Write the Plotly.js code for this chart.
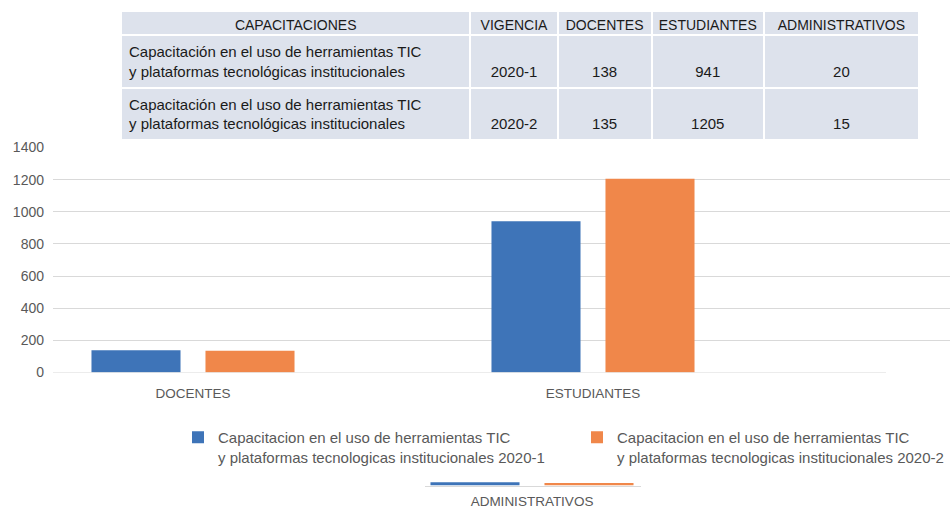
<!DOCTYPE html>
<html>
<head>
<meta charset="utf-8">
<script src="https://cdn.plot.ly/plotly-3.0.1.min.js"></script>
<style>html,body{margin:0;padding:0;background:#fff;}#chart{width:950px;height:510px;}</style>
</head>
<body>
<div id="chart"></div>
<script>
// ---- data ----
var categories = ['DOCENTES', 'ESTUDIANTES'];
var categoriesAdmin = ['ADMINISTRATIVOS'];
var seriesNames = [
  'Capacitacion en el uso de herramientas TIC<br>y plataformas tecnologicas institucionales 2020-1',
  'Capacitacion en el uso de herramientas TIC<br>y plataformas tecnologicas institucionales 2020-2'
];
var values2020_1 = [138, 941];
var values2020_2 = [135, 1205];
var admin2020_1 = [20];
var admin2020_2 = [15];

var tableHeader = ['CAPACITACIONES', 'VIGENCIA', 'DOCENTES', 'ESTUDIANTES', 'ADMINISTRATIVOS'];
var tableCapacitaciones = [
  'Capacitación en el uso de herramientas TIC<br>y plataformas tecnológicas institucionales',
  'Capacitación en el uso de herramientas TIC<br>y plataformas tecnológicas institucionales'
];
var tableVigencia = ['2020-1', '2020-2'];
var tableDocentes = [138, 135];
var tableEstudiantes = [941, 1205];
var tableAdministrativos = [20, 15];

var yTicks = [0, 200, 400, 600, 800, 1000, 1200, 1400];

// ---- styling ----
var BLUE = '#3e74b8', ORANGE = '#f0874a', GRID = '#d9d9d9', TXT = '#595959';
var FONT = 'Liberation Sans, Arial, sans-serif';
var W = 950, H = 510;
function px(x) { return x / W; }
function py(y) { return (H - y) / H; }
function br(v) { return '\u00a0<br>' + v; }

var legendStyle = function (x) {
  return {
    orientation: 'h',
    x: px(x), xanchor: 'left',
    y: py(421), yanchor: 'top',
    valign: 'top',
    font: {family: FONT, size: 15, color: TXT},
    bgcolor: 'rgba(0,0,0,0)',
    borderwidth: 0
  };
};

var traces = [
  {
    type: 'table',
    domain: {x: [px(121), px(919)], y: [py(141), py(11)]},
    columnwidth: [349, 87, 94, 112, 155],
    header: {
      values: tableHeader,
      align: 'center',
      height: 24,
      fill: {color: '#dde2ec'},
      line: {color: '#ffffff', width: 2},
      font: {family: FONT, size: 14, color: '#1a1a1a'}
    },
    cells: {
      values: [
        tableCapacitaciones,
        tableVigencia.map(br),
        tableDocentes.map(br),
        tableEstudiantes.map(br),
        tableAdministrativos.map(br)
      ],
      align: ['left', 'center', 'center', 'center', 'center'],
      height: 47,
      fill: {color: '#dde2ec'},
      line: {color: '#ffffff', width: 2},
      font: {family: FONT, size: 15, color: '#1a1a1a'}
    }
  },
  {
    type: 'bar', x: categories, y: values2020_1, name: seriesNames[0], legend: 'legend',
    marker: {color: BLUE}, xaxis: 'x', yaxis: 'y', hoverinfo: 'y'
  },
  {
    type: 'bar', x: categories, y: values2020_2, name: seriesNames[1], legend: 'legend2',
    marker: {color: ORANGE}, xaxis: 'x', yaxis: 'y', hoverinfo: 'y'
  },
  {
    type: 'bar', x: categoriesAdmin, y: admin2020_1, name: seriesNames[0], showlegend: false,
    marker: {color: BLUE}, xaxis: 'x2', yaxis: 'y2', hoverinfo: 'y'
  },
  {
    type: 'bar', x: categoriesAdmin, y: admin2020_2, name: seriesNames[1], showlegend: false,
    marker: {color: ORANGE}, xaxis: 'x2', yaxis: 'y2', hoverinfo: 'y'
  }
];

var layout = {
  width: W, height: H,
  margin: {l: 0, r: 0, t: 0, b: 0},
  paper_bgcolor: '#ffffff',
  plot_bgcolor: 'rgba(0,0,0,0)',
  font: {family: FONT, color: TXT},
  barmode: 'group',
  bargap: 0.43,
  bargroupgap: 0.219,
  showlegend: true,
  legend: legendStyle(178),
  legend2: legendStyle(577),
  xaxis: {
    domain: [px(53), 1],
    type: 'category',
    range: [-0.35, 1.8925],
    showgrid: false, zeroline: false, showline: false,
    ticks: '', ticklabelstandoff: 11,
    tickfont: {family: FONT, size: 13.5, color: TXT},
    automargin: false,
    fixedrange: true
  },
  yaxis: {
    domain: [py(372.5), py(147.5)],
    range: [0, 1400],
    tickvals: yTicks,
    showgrid: true, gridcolor: GRID, gridwidth: 1,
    zeroline: false, showline: false,
    ticks: '', ticklabelstandoff: 8,
    tickfont: {family: FONT, size: 14, color: TXT},
    automargin: false,
    fixedrange: true
  },
  xaxis2: {
    domain: [px(425), px(641)],
    anchor: 'y2',
    type: 'category',
    range: [-0.2675, 0.2725],
    showgrid: false, zeroline: false,
    showline: true, linecolor: GRID, linewidth: 1,
    ticks: '', ticklabelstandoff: 3,
    tickfont: {family: FONT, size: 13.5, color: TXT},
    automargin: false,
    fixedrange: true
  },
  yaxis2: {
    domain: [py(485.5), py(470)],
    anchor: 'x2',
    range: [0, 96],
    showgrid: false, zeroline: false, showline: false,
    showticklabels: false, ticks: '',
    automargin: false,
    fixedrange: true
  },
  shapes: [
    {
      type: 'line', xref: 'x', yref: 'y', layer: 'above',
      x0: -0.35, x1: 1.7325, y0: 0, y1: 0,
      line: {color: GRID, width: 1}
    }
  ]
};

Plotly.newPlot('chart', traces, layout, {displayModeBar: false, staticPlot: true});
</script>
</body>
</html>
